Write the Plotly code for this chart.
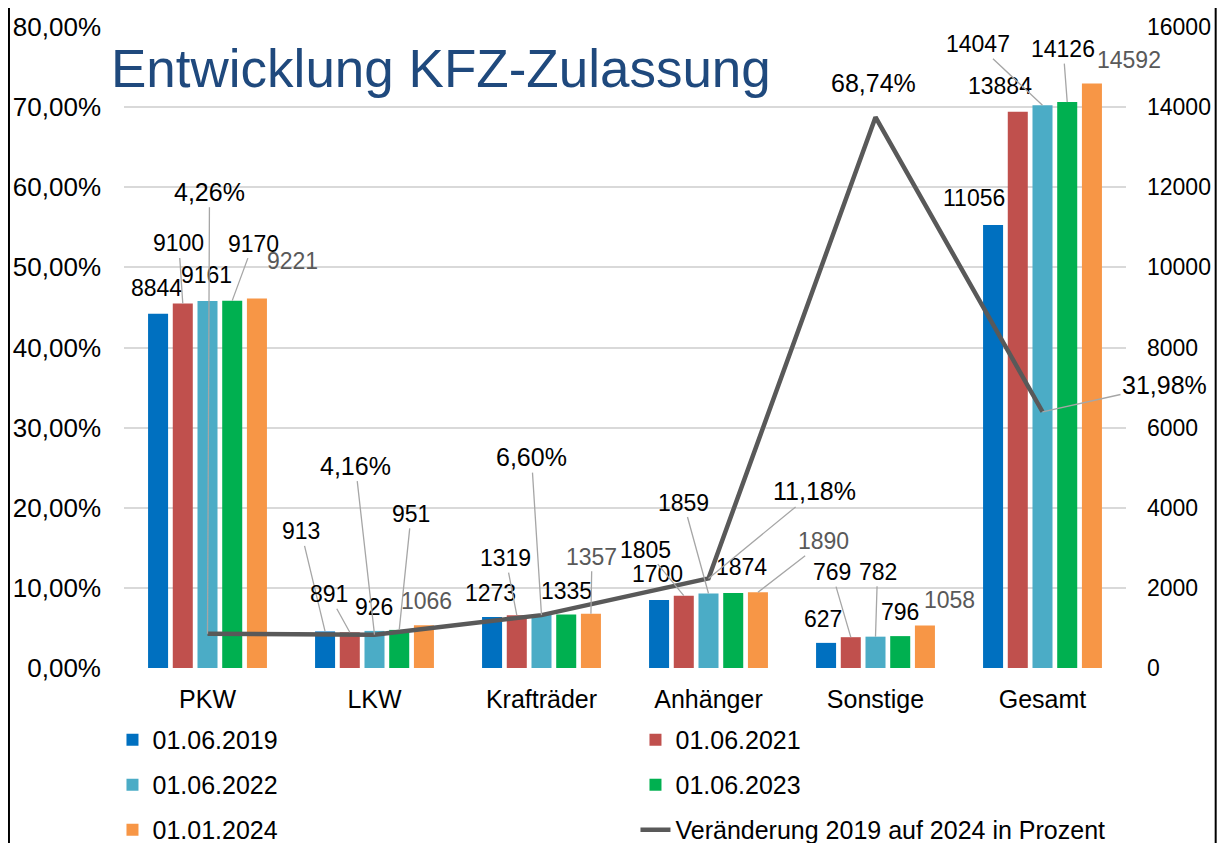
import plotly.graph_objects as go

# ---------------- data ----------------
categories = ["PKW", "LKW", "Krafträder", "Anhänger", "Sonstige", "Gesamt"]
series_names = ["01.06.2019", "01.06.2021", "01.06.2022", "01.06.2023", "01.01.2024"]
v_2019 = [8844, 913, 1273, 1700, 627, 11056]
v_2021 = [9100, 891, 1319, 1805, 769, 13884]
v_2022 = [9161, 926, 1325, 1859, 782, 14047]
v_2023 = [9170, 951, 1335, 1874, 796, 14126]
v_2024 = [9221, 1066, 1357, 1890, 1058, 14592]
change_pct = [0.0426, 0.0416, 0.0660, 0.1118, 0.6874, 0.3198]
line_name = "Veränderung 2019 auf 2024 in Prozent"
title_text = "Entwicklung KFZ-Zulassung"

series_values = [v_2019, v_2021, v_2022, v_2023, v_2024]

# ---------------- styles ----------------
bar_colors = ["#0070C0", "#C0504D", "#4BACC6", "#00B050", "#F79646"]
label_colors = ["#000000", "#000000", "#000000", "#000000", "#595959"]
line_color = "#595959"
leader_color = "#A6A6A6"
FONT = "Liberation Sans, Arial, sans-serif"

# label placement (pixel offset of label centre from its point, leader line flag)
lab_2019 = [(-2, -26, 0), (-24, -100, 1), (-2, -24, 0), (-2, -26, 0), (-3, -24, 0), (-19, -27, 0)]
lab_2021 = [(-4, -60, 1), (-21, -38, 1), (-11, -57, 1), (-38, -46, 1), (-19, -65, 1), (-18, -26, 0)]
lab_2022 = [(-1, -26, 0), (-1, -24, 0), None, (-25, -91, 1), (2, -65, 1), (-65, -61, 1)]
lab_2023 = [(21, -57, 1), (12, -116, 1), (0, -24, 0), (8, -26, 0), (0, -24, 0), (-4, -53, 1)]
lab_2024 = [(36, -38, 0), (3, -24, 0), (1, -57, 1), (66, -51, 1), (25, -26, 0), (37, -23, 0)]
lab_pct = [(2, -442, 1), (-19, -169, 1), (-10, -158, 1), (106, -87, 1), (-2, -34, 0), (122, -27, 1)]
bar_labels = [lab_2019, lab_2021, lab_2022, lab_2023, lab_2024]

BARGAP = 0.26
BARGROUPGAP = 0.19
slot = (1 - BARGAP) / len(series_names)

xs = list(range(len(categories)))

fig = go.Figure()
legend_ids = ["legend", "legend", "legend2", "legend2", "legend3"]
for k, (name, vals) in enumerate(zip(series_names, series_values)):
    fig.add_trace(go.Bar(
        x=xs, y=vals, name=name, marker_color=bar_colors[k],
        marker_line_width=0, yaxis="y", legend=legend_ids[k],
        hoverinfo="skip",
    ))

fig.add_trace(go.Scatter(
    x=xs, y=change_pct, name=line_name, mode="lines",
    line=dict(color=line_color, width=4.5), yaxis="y2", legend="legend3",
))

annotations = []


def add_label(x, y, yref, text, color, size, spec):
    if spec is None:
        return
    dx, dy, leader = spec
    if leader:
        annotations.append(dict(
            x=x, y=y, xref="x", yref=yref, text=text, showarrow=True,
            ax=dx, ay=dy, arrowhead=0, arrowwidth=1.3, arrowcolor=leader_color,
            standoff=0, startstandoff=0,
            font=dict(family=FONT, size=size, color=color),
        ))
    else:
        annotations.append(dict(
            x=x, y=y, xref="x", yref=yref, text=text, showarrow=False,
            xshift=dx, yshift=-dy, xanchor="center", yanchor="middle",
            font=dict(family=FONT, size=size, color=color),
        ))


for k, vals in enumerate(series_values):
    off = (k - (len(series_names) - 1) / 2) * slot
    for i, v in enumerate(vals):
        add_label(i + off, v, "y", str(v), label_colors[k], 23, bar_labels[k][i])

for i, p in enumerate(change_pct):
    txt = f"{p * 100:.2f}%".replace(".", ",")
    add_label(i, p, "y2", txt, "#000000", 25, lab_pct[i])

# title
annotations.append(dict(
    text=title_text, xref="paper", yref="paper", x=-0.0145, y=0.936,
    xanchor="left", yanchor="middle", showarrow=False,
    font=dict(family=FONT, size=53, color="#1F497D"),
))

shapes = [
    dict(type="line", xref="paper", yref="paper", x0=-0.1148, x1=-0.1148, y0=-0.3, y1=1.1,
         line=dict(color="black", width=2), layer="above"),
    dict(type="line", xref="paper", yref="paper", x0=1.0895, x1=1.0895, y0=-0.3, y1=1.1,
         line=dict(color="black", width=2), layer="above"),
]

legend_common = dict(
    orientation="h", xanchor="left", yanchor="middle",
    font=dict(family=FONT, size=25, color="#000000"),
    bgcolor="rgba(0,0,0,0)", entrywidth=478, entrywidthmode="pixels",
    itemwidth=30, traceorder="normal",
)

# the page body adds an 8px offset, so figure size and margins compensate
fig.update_layout(
    width=1217, height=835,
    margin=dict(l=116, r=99, t=19, b=175, autoexpand=False),
    paper_bgcolor="white", plot_bgcolor="white",
    separators=",.",
    barmode="group", bargap=BARGAP, bargroupgap=BARGROUPGAP,
    font=dict(family=FONT, size=23, color="#000000"),
    xaxis=dict(
        range=[-0.5, 5.5], tickvals=xs, ticktext=categories, showgrid=False,
        zeroline=False, showline=False, ticks="", ticklabelstandoff=14,
        tickfont=dict(family=FONT, size=25, color="#000000"),
    ),
    yaxis=dict(
        side="right", range=[0, 16000], dtick=2000, tickformat="d",
        showgrid=True, gridcolor="#D9D9D9", gridwidth=2, zeroline=False,
        showline=False, ticks="", ticklabelstandoff=20,
        tickfont=dict(family=FONT, size=23, color="#000000"),
    ),
    yaxis2=dict(
        overlaying="y", side="left", range=[0, 0.8], dtick=0.1, tickformat=".2%",
        showgrid=False, zeroline=False, showline=False, ticks="",
        ticklabelstandoff=22,
        tickfont=dict(family=FONT, size=26, color="#000000"),
    ),
    legend=dict(x=-0.0115, y=-0.1123, **legend_common),
    legend2=dict(x=-0.0115, y=-0.1825, **legend_common),
    legend3=dict(x=-0.0115, y=-0.2527, **legend_common),
    annotations=annotations,
    shapes=shapes,
)

fig.write_html("out.html")
